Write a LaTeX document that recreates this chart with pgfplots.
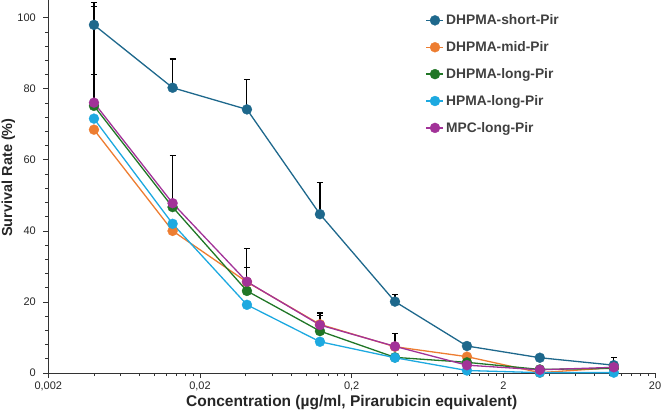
\documentclass[border=0pt]{standalone}
\usepackage{fontspec}
\setmainfont{Liberation Sans}
\usepackage{pgfplots}
\pgfplotsset{compat=1.18}
\usepackage{pgfplotstable}

\definecolor{cShort}{RGB}{30,104,140}
\definecolor{cMid}{RGB}{237,125,49}
\definecolor{cLong}{RGB}{32,118,38}
\definecolor{cHPMA}{RGB}{29,169,224}
\definecolor{cMPC}{RGB}{162,50,152}

% columns: concentration, survival rate, upper error
\pgfplotstableread{
x y e
0.0040 98.0 6.3
0.0132 80.3 8.1
0.0408 74.2 8.4
0.1236 44.7 8.9
0.386 20.1 2.0
1.151 7.6 0
3.48 4.3 0
10.7 2.2 2.1
}\shortdata

\pgfplotstableread{
x y e
0.0040 68.5 0
0.0132 40.0 0
0.0408 25.6 0
0.1236 13.7 0
0.386 7.4 0
1.151 4.6 0
3.48 0.1 0
10.7 1.5 0
}\middata

\pgfplotstableread{
x y e
0.0040 75.2 8.8
0.0132 46.7 0
0.0408 23.1 6.6
0.1236 11.8 4.3
0.386 4.4 0
1.151 3.0 0
3.48 1.0 0
10.7 1.3 0
}\longdata

\pgfplotstableread{
x y e
0.0040 71.6 0
0.0132 42.0 0
0.0408 19.2 0
0.1236 8.8 0
0.386 4.3 0
1.151 0.7 0
3.48 0.1 0
10.7 0.1 0
}\hpmadata

\pgfplotstableread{
x y e
0.0040 76.1 27.0
0.0132 47.8 13.5
0.0408 25.7 9.3
0.1236 13.5 3.4
0.386 7.5 3.7
1.151 2.2 0
3.48 0.9 0
10.7 1.6 0
}\mpcdata

\begin{document}
\begin{tikzpicture}
\useasboundingbox (-48.3bp,-42bp) rectangle (617.7bp,373bp);
\begin{axis}[
  scale only axis,
  width=606.7bp, height=373bp,
  xmode=log,
  xmin=0.002, xmax=20,
  ymin=0, ymax=105,
  clip=false,
  xtick={0.002,0.02,0.2,2,20},
  xticklabels={{0,002},{0,02},{0,2},2,20},
  minor xtick={0.004,0.006,0.008,0.010,0.012,0.014,0.016,0.018,
               0.04,0.06,0.08,0.10,0.12,0.14,0.16,0.18,
               0.4,0.6,0.8,1.0,1.2,1.4,1.6,1.8,
               4,6,8,10,12,14,16,18},
  ytick={0,20,40,60,80,100},
  minor y tick num=4,
  axis x line*=bottom,
  axis y line*=left,
  axis line style={black!80, line width=0.8bp},
  tick align=outside,
  major tick length=5bp,
  minor tick length=3bp,
  every tick/.style={black!80, line width=0.8bp},
  /pgf/number format/assume math mode=true,
  ticklabel style={font=\fontsize{11bp}{13bp}\selectfont, text=black!85},
  yticklabel style={xshift=-4bp},
  xlabel={Concentration (µg/ml, Pirarubicin equivalent)},
  ylabel={Survival Rate (\%)},
  xlabel style={at={(axis description cs:0.5,-0.078)}, anchor=center,
    font=\fontsize{15.5bp}{18bp}\selectfont\bfseries, text=black!85},
  ylabel style={at={(axis description cs:-0.066,0.524)}, anchor=center, rotate=0,
    font=\fontsize{14.5bp}{17bp}\selectfont\bfseries, text=black!85},
  legend cell align=left,
  legend style={at={(axis description cs:0.617,0.972)}, anchor=north west,
    draw=none, fill=none, text=black!75,
    font=\fontsize{13.8bp}{16bp}\selectfont\bfseries,
    row sep=11.4bp},
  every axis plot/.append style={line width=1.3bp},
]

% error bars first, so that every marker sits on top of them
\pgfplotsset{errlayer/.style={only marks, mark=none, forget plot,
  error bars/.cd, y dir=plus, y explicit,
  error bar style={black, line width=1.1bp},
  error mark=|,
  error mark options={black, line width=1.1bp, mark size=3bp}}}
\addplot[errlayer] table[x=x, y=y, y error=e] {\shortdata};
\addplot[errlayer] table[x=x, y=y, y error=e] {\longdata};
\addplot[errlayer] table[x=x, y=y, y error=e] {\mpcdata};

\addplot[color=cShort, mark=*, mark size=5bp,
  mark options={fill=cShort, draw=cShort, line width=0.3bp}]
  table[x=x, y=y] {\shortdata};
\addlegendentry{DHPMA-short-Pir}
\addplot[color=cMid, mark=*, mark size=5bp,
  mark options={fill=cMid, draw=cMid, line width=0.3bp}]
  table[x=x, y=y] {\middata};
\addlegendentry{DHPMA-mid-Pir}
\addplot[color=cLong, mark=*, mark size=5bp,
  mark options={fill=cLong, draw=cLong, line width=0.3bp}]
  table[x=x, y=y] {\longdata};
\addlegendentry{DHPMA-long-Pir}
\addplot[color=cHPMA, mark=*, mark size=5bp,
  mark options={fill=cHPMA, draw=cHPMA, line width=0.3bp}]
  table[x=x, y=y] {\hpmadata};
\addlegendentry{HPMA-long-Pir}
\addplot[color=cMPC, mark=*, mark size=5bp,
  mark options={fill=cMPC, draw=cMPC, line width=0.3bp}]
  table[x=x, y=y] {\mpcdata};
\addlegendentry{MPC-long-Pir}
\end{axis}
\end{tikzpicture}
\end{document}
